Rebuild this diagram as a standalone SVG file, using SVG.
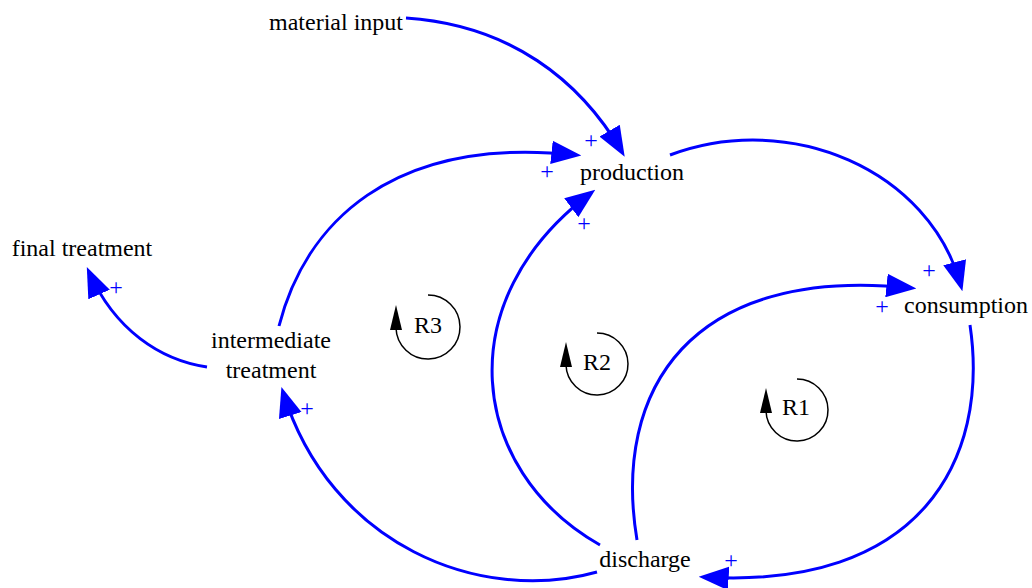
<svg xmlns="http://www.w3.org/2000/svg" width="1032" height="588" viewBox="0 0 1032 588">
<style>
.lbl{font-family:"Liberation Serif","Times New Roman",serif;font-size:24px;fill:#000;text-anchor:middle}
.pol{font-family:"Liberation Serif","Times New Roman",serif;font-size:24px;fill:#0000ff;text-anchor:middle}
.edge{fill:none;stroke:#0000ff;stroke-width:3;marker-end:url(#ah)}
.loop{fill:none;stroke:#000;stroke-width:1.5}
</style>
<defs>
<marker id="ah" markerUnits="userSpaceOnUse" markerWidth="30" markerHeight="24" viewBox="0 0 28 22" refX="23" refY="11" orient="auto">
<path d="M0,0 L28,11 L0,22 z" fill="#0000ff"/>
</marker>
</defs>
<rect width="1032" height="588" fill="#fff"/>
<g id="connectors">
<path class="edge" d="M406,18 C510,25 580,80 622,152"/>
<path class="edge" d="M279,326 C305,225 390,135 576,155"/>
<path class="edge" d="M600,545 C468,470 448,300 591,193"/>
<path class="edge" d="M637,540 C612,390 690,265 911,288"/>
<path class="edge" d="M670,155 C790,110 930,170 961,286"/>
<path class="edge" d="M970,325 C990,460 920,590 704,577"/>
<path class="edge" d="M597,572 C480,605 330,545 283,392"/>
<path class="edge" d="M207,367 C160,360 115,330 89,272"/>
<text class="pol" x="591" y="148">+</text>
<text class="pol" x="547" y="179">+</text>
<text class="pol" x="584" y="231">+</text>
<text class="pol" x="929" y="278">+</text>
<text class="pol" x="882" y="314">+</text>
<text class="pol" x="731" y="568">+</text>
<text class="pol" x="116" y="295">+</text>
<text class="pol" x="307" y="416">+</text>
</g>
<g id="material_input"><text class="lbl" x="336" y="30">material input</text></g>
<g id="production"><text class="lbl" x="632" y="180">production</text></g>
<g id="consumption"><text class="lbl" x="966" y="313">consumption</text></g>
<g id="discharge"><text class="lbl" x="645" y="567">discharge</text></g>
<g id="intermediate_treatment"><text class="lbl" x="271" y="348">intermediate</text><text class="lbl" x="271" y="378">treatment</text></g>
<g id="final_treatment"><text class="lbl" x="82" y="256">final treatment</text></g>
<g id="R3">
<path class="loop" d="M428,295 A32,32 0 1 1 396,328"/>
<polygon points="390,330 402,330 396,305" fill="#000"/>
<text class="lbl" x="428" y="333">R3</text>
</g>
<g id="R2">
<path class="loop" d="M597,333 A31,31 0 1 1 566,365"/>
<polygon points="560,367 572,367 566,342" fill="#000"/>
<text class="lbl" x="597" y="370">R2</text>
</g>
<g id="R1">
<path class="loop" d="M797,379 A31,31 0 1 1 766,411"/>
<polygon points="760,413 772,413 766,388" fill="#000"/>
<text class="lbl" x="796" y="415">R1</text>
</g>
</svg>
